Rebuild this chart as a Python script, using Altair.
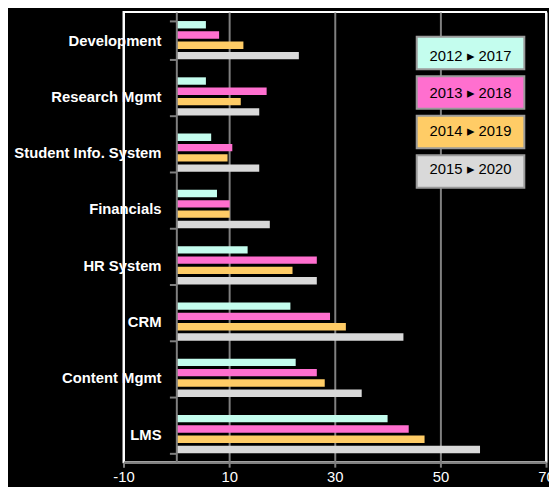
import altair as alt
import pandas as pd

categories = ["Development", "Research Mgmt", "Student Info. System", "Financials",
              "HR System", "CRM", "Content Mgmt", "LMS"]
series = ["2012 \u25b8 2017", "2013 \u25b8 2018", "2014 \u25b8 2019", "2015 \u25b8 2020"]
colors = ["#C4FDEE", "#FF6FCF", "#FFCC66", "#D9D9D9"]

v_2017 = [5.6, 5.6, 6.6, 7.7, 13.5, 21.6, 22.6, 40.0]
v_2018 = [8.1, 17.1, 10.6, 10.1, 26.6, 29.1, 26.6, 44.0]
v_2019 = [12.7, 12.2, 9.7, 10.1, 22.0, 32.1, 28.1, 47.0]
v_2020 = [23.2, 15.7, 15.7, 17.7, 26.6, 43.0, 35.1, 57.5]

x_ticks = [-10, 10, 30, 50, 70]

rows = []
for s, vals in zip(series, [v_2017, v_2018, v_2019, v_2020]):
    for c, v in zip(categories, vals):
        rows.append({"category": c, "series": s, "value": v})
df = pd.DataFrame(rows)
leg_df = pd.DataFrame({"series": series})

FONT = "Liberation Sans Narrow, Arial Narrow, Liberation Sans, sans-serif"
GRAY = "#808080"

color_scale = alt.Scale(domain=series, range=colors)

bars = alt.Chart(df).mark_bar().encode(
    x=alt.X(
        "value:Q",
        scale=alt.Scale(domain=[-10, 70], nice=False, zero=False),
        axis=alt.Axis(
            values=x_ticks, title=None, grid=True,
            gridColor={"condition": {"test": "datum.value == -10 || datum.value == 70", "value": "white"}, "value": GRAY},
            gridWidth=2, domainColor=GRAY, domainWidth=2.5, tickColor=GRAY, tickWidth=2,
            tickSize=5, labelColor="white", labelFont=FONT, labelFontSize=15,
            labelPadding=3, labelFlush=False, labelOverlap=False,
            labelExpr="'' + datum.value",
        ),
    ),
    y=alt.Y(
        "category:N", sort=categories,
        scale=alt.Scale(paddingInner=0.32, paddingOuter=0.16),
        axis=alt.Axis(
            title=None, offset=-53.5, tickBand="extent", zindex=1,
            domainColor=GRAY, domainWidth=2, tickColor=GRAY, tickWidth=2, tickSize=7,
            labelColor="white", labelFont=FONT, labelFontSize=15, labelFontWeight="bold",
            labelPadding=8.5, labelLimit=250,
        ),
    ),
    yOffset=alt.YOffset("series:N", sort=series, scale=alt.Scale(paddingInner=0.28, paddingOuter=0)),
    color=alt.Color("series:N", scale=color_scale, legend=None),
)

leg_scale = alt.Scale(domain=series, range=[25, 178], paddingInner=0.18, paddingOuter=0)

leg_rect = alt.Chart(leg_df).mark_rect(stroke="#9A9A9A", strokeWidth=2).encode(
    x=alt.value(297), x2=alt.value(406),
    y=alt.Y("series:N", sort=series, scale=leg_scale, axis=None),
    color=alt.Color("series:N", scale=color_scale, legend=None),
)

leg_text = alt.Chart(leg_df).mark_text(
    color="black", font=FONT, fontSize=15, align="center", baseline="middle"
).encode(
    x=alt.value(351.5),
    y=alt.Y("series:N", sort=series, scale=leg_scale, axis=None),
    text="series:N",
)

chart = alt.layer(bars, leg_rect, leg_text).resolve_scale(y="independent").properties(
    width=428, height=456,
    autosize=alt.AutoSizeParams(type="none"),
    padding={"left": 117, "top": 1, "right": 3, "bottom": 22},
    background="black",
).configure_view(stroke="white", strokeWidth=2)

chart.save("out.html", embed_options={"renderer": "svg", "actions": False})
